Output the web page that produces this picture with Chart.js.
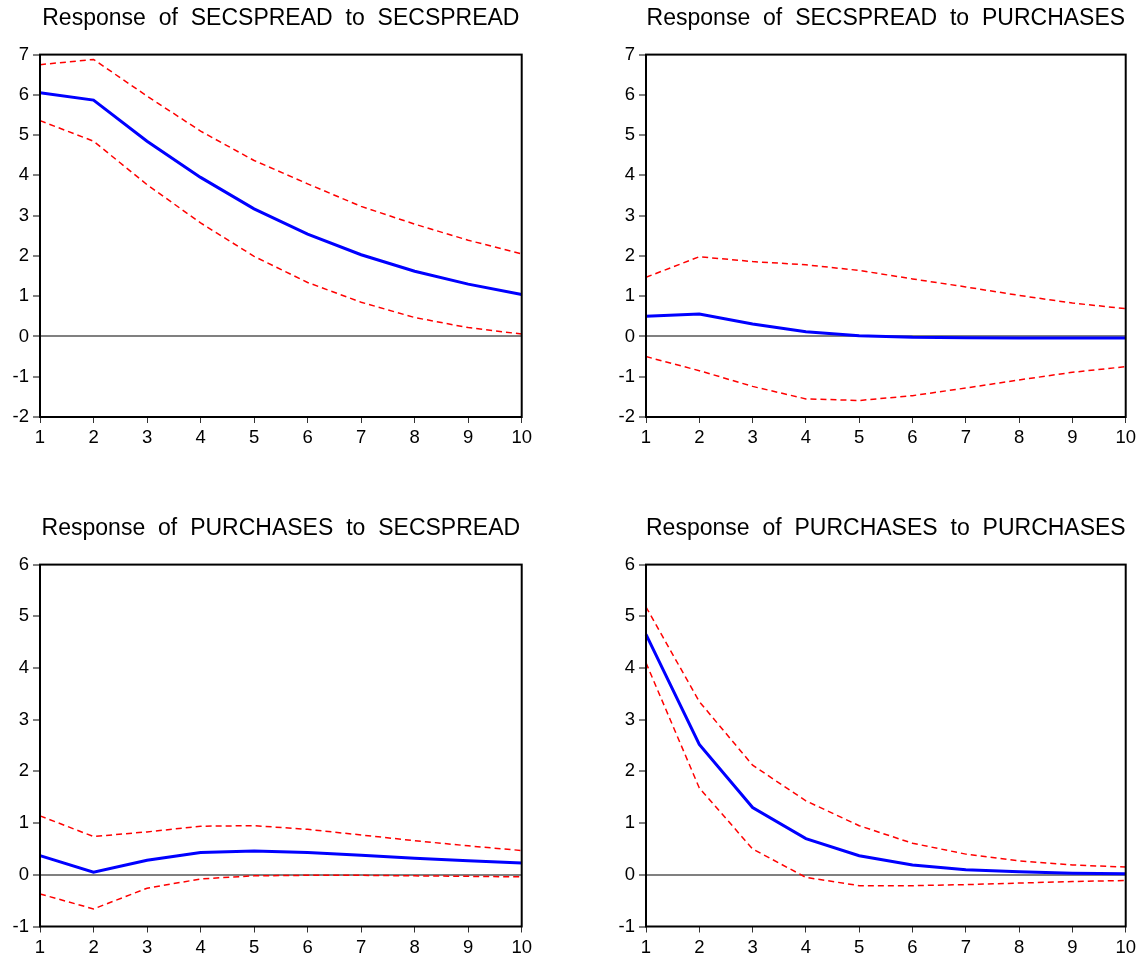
<!DOCTYPE html>
<html>
<head>
<meta charset="utf-8">
<script src="https://cdn.jsdelivr.net/npm/chart.js@4.4.1/dist/chart.umd.min.js"></script>
<style>
  html, body { margin: 0; padding: 0; background: #fff; }
  #wrap { position: relative; width: 1148px; height: 961px; overflow: hidden; }
  canvas { position: absolute; }
  #c1 { left: 0; top: 0; }
  #c2 { left: 600px; top: 0; }
  #c3 { left: 0; top: 510px; }
  #c4 { left: 600px; top: 510px; }
</style>
</head>
<body>
<div id="wrap">
  <canvas id="c1" width="536" height="460"></canvas>
  <canvas id="c2" width="540" height="460"></canvas>
  <canvas id="c3" width="536" height="451"></canvas>
  <canvas id="c4" width="540" height="451"></canvas>
</div>
<script>
// forecast horizon (periods after the shock)
const periods = ['1', '2', '3', '4', '5', '6', '7', '8', '9', '10'];

// SECSPREAD response to a SECSPREAD shock, with +/- 2 S.E. bands
const spreadToSpread = [6.05, 5.87, 4.85, 3.95, 3.17, 2.54, 2.03, 1.62, 1.30, 1.04];
const spreadToSpreadHi = [6.75, 6.88, 5.97, 5.10, 4.37, 3.79, 3.23, 2.79, 2.39, 2.05];
const spreadToSpreadLo = [5.36, 4.85, 3.77, 2.82, 1.99, 1.34, 0.85, 0.47, 0.22, 0.06];

// SECSPREAD response to a PURCHASES shock
const spreadToPurch = [0.50, 0.56, 0.31, 0.12, 0.02, -0.02, -0.03, -0.04, -0.04, -0.04];
const spreadToPurchHi = [1.47, 1.98, 1.86, 1.78, 1.64, 1.43, 1.23, 1.02, 0.83, 0.69];
const spreadToPurchLo = [-0.50, -0.85, -1.24, -1.55, -1.59, -1.47, -1.28, -1.08, -0.89, -0.75];

// PURCHASES response to a SECSPREAD shock
const purchToSpread = [0.37, 0.05, 0.28, 0.43, 0.46, 0.43, 0.38, 0.32, 0.27, 0.23];
const purchToSpreadHi = [1.14, 0.74, 0.83, 0.94, 0.95, 0.88, 0.77, 0.66, 0.56, 0.47];
const purchToSpreadLo = [-0.37, -0.66, -0.26, -0.08, -0.02, -0.01, -0.01, -0.02, -0.03, -0.04];

// PURCHASES response to a PURCHASES shock
const purchToPurch = [4.65, 2.52, 1.30, 0.70, 0.37, 0.19, 0.10, 0.06, 0.03, 0.02];
const purchToPurchHi = [5.18, 3.35, 2.12, 1.43, 0.95, 0.61, 0.40, 0.27, 0.19, 0.15];
const purchToPurchLo = [4.10, 1.68, 0.50, -0.05, -0.21, -0.21, -0.19, -0.16, -0.13, -0.11];

// y ranges of the two rows
const topRange = [-2, 7];
const bottomRange = [-1, 6];

const FONT = "'Liberation Sans', Arial, Helvetica, sans-serif";

// box round the plot area
const framePlugin = {
  id: 'frame',
  afterDatasetsDraw(chart) {
    const { ctx, chartArea: a } = chart;
    ctx.save();
    ctx.strokeStyle = '#000';
    ctx.lineWidth = 2;
    ctx.strokeRect(a.left, a.top, a.right - a.left, a.bottom - a.top);
    ctx.restore();
  }
};

// wider gaps between the words of the title
const spacingPlugin = {
  id: 'spacing',
  beforeDraw(chart) {
    chart.ctx.wordSpacing = '6.5px';
  }
};

function makeChart(id, title, mid, hi, lo, range, axisWidth, axisHeight) {
  const band = data => ({
    data: data,
    borderColor: '#ff0000',
    borderWidth: 1.5,
    borderDash: [6, 4],
    pointRadius: 0,
    tension: 0,
    fill: false
  });

  return new Chart(document.getElementById(id), {
    type: 'line',
    data: {
      labels: periods,
      datasets: [
        band(hi),
        band(lo),
        {
          data: mid,
          borderColor: '#0000ff',
          borderWidth: 3,
          pointRadius: 0,
          tension: 0,
          fill: false
        }
      ]
    },
    options: {
      responsive: false,
      animation: false,
      events: [],
      layout: { padding: { top: 0, right: 14, bottom: 0, left: 0 } },
      plugins: {
        legend: { display: false },
        tooltip: { enabled: false },
        title: {
          display: true,
          text: title,
          fullSize: false,
          color: '#000',
          font: { family: FONT, size: 23, weight: 'normal', lineHeight: 1.2 },
          padding: { top: 5, bottom: 22 }
        }
      },
      scales: {
        x: {
          offset: false,
          border: { display: false },
          grid: {
            drawOnChartArea: false,
            tickLength: 6,
            tickColor: '#333',
            lineWidth: 1
          },
          ticks: {
            color: '#000',
            padding: 4,
            autoSkip: false,
            maxRotation: 0,
            font: { family: FONT, size: 18.5 }
          },
          afterFit(scale) { scale.height = axisHeight; }
        },
        y: {
          min: range[0],
          max: range[1],
          border: { display: false },
          grid: {
            color: ctx => (ctx.tick && ctx.tick.value === 0 ? '#808080' : 'rgba(0,0,0,0)'),
            lineWidth: 2,
            tickColor: '#808080',
            tickLength: 7
          },
          ticks: {
            stepSize: 1,
            color: '#000',
            padding: 4,
            font: { family: FONT, size: 18.5 }
          },
          afterFit(scale) { scale.width = axisWidth; }
        }
      }
    },
    plugins: [framePlugin, spacingPlugin]
  });
}

makeChart('c1', 'Response of SECSPREAD to SECSPREAD',
  spreadToSpread, spreadToSpreadHi, spreadToSpreadLo, topRange, 40, 43);
makeChart('c2', 'Response of SECSPREAD to PURCHASES',
  spreadToPurch, spreadToPurchHi, spreadToPurchLo, topRange, 46, 43);
makeChart('c3', 'Response of PURCHASES to SECSPREAD',
  purchToSpread, purchToSpreadHi, purchToSpreadLo, bottomRange, 40, 34.5);
makeChart('c4', 'Response of PURCHASES to PURCHASES',
  purchToPurch, purchToPurchHi, purchToPurchLo, bottomRange, 46, 34.5);
</script>
</body>
</html>
